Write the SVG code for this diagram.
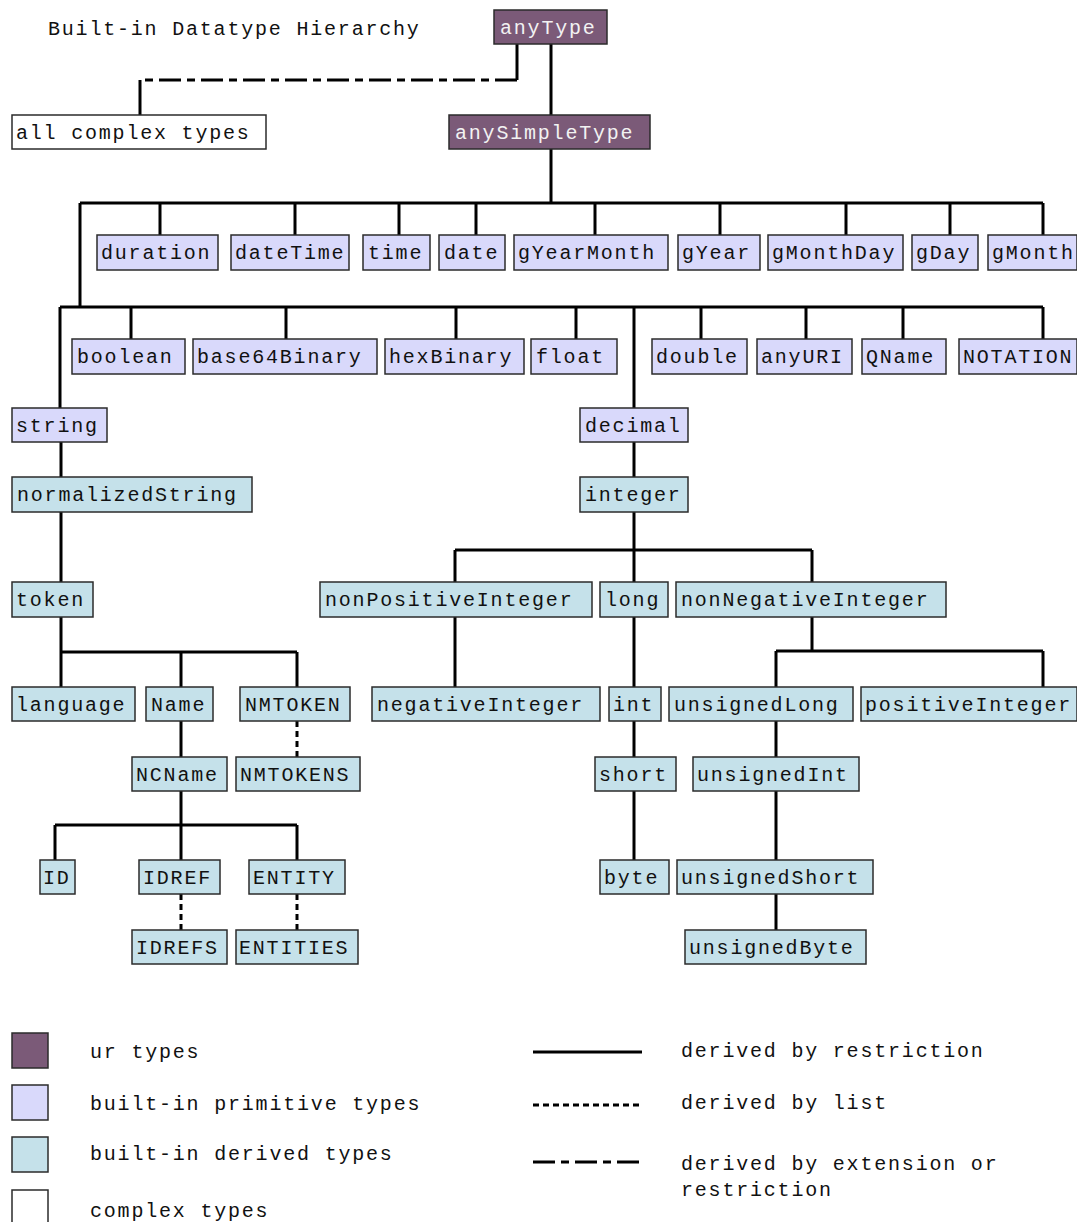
<svg xmlns="http://www.w3.org/2000/svg" width="1077" height="1222" viewBox="0 0 1077 1222">
<style>
rect{stroke:#2b2b2b;stroke-width:1.5}
.ur{fill:#7b5a78}
.pr{fill:#d9d9fb}
.de{fill:#c5e1ea}
.cx{fill:#ffffff}
text{font-family:"Liberation Mono","DejaVu Sans Mono",monospace;font-size:20px;letter-spacing:1.8px;fill:#111}
.lt{fill:#f2f2f2}
.e{stroke:#000;stroke-width:3;fill:none}
.li{stroke-dasharray:6 4}
.ex{stroke-dasharray:22 6 8 6}
</style>
<text x="48" y="35">Built-in Datatype Hierarchy</text>
<g id="connectors">
<path class="e" d="M517 44V80"/>
<path class="e ex" d="M517 80H140"/>
<path class="e" d="M140 80V115"/>
<path class="e" d="M551 44V115M551 149V203M80 203H1043M160 203V235M295 203V235M399 203V235M476 203V235M595 203V235M720 203V235M846 203V235M950 203V235M1043 203V235M80 203V307M60 307H1043M131 307V339M286 307V339M456 307V339M576 307V339M701 307V339M806 307V339M903 307V339M1043 307V339M60 307V408M634 307V408"/>
<path class="e" d="M61 442V477M61 512V582M61 617V652H297M61 652V687M181 652V687M297 652V687M181 721V757M181 791V825M55 825H297M55 825V860M181 825V860M297 825V860"/>
<path class="e li" d="M297 721V757M181 894V930M297 894V930"/>
<path class="e" d="M634 442V477M634 512V550M455 550H812M455 550V582M634 550V582M812 550V582M455 617V687M634 617V687M634 721V757M634 791V860M812 617V651M776 651H1043M776 651V687M1043 651V687M776 721V757M776 791V860M776 894V930"/>
</g>
<g id="n-anyType"><rect class="ur" x="494" y="10" width="113" height="34"/><text class="lt" x="500" y="34">anyType</text></g>
<g id="n-complex"><rect class="cx" x="12" y="115" width="254" height="34"/><text x="16" y="139">all complex types</text></g>
<g id="n-anySimpleType"><rect class="ur" x="449" y="115" width="201" height="34"/><text class="lt" x="455" y="139">anySimpleType</text></g>
<g id="n-duration"><rect class="pr" x="97" y="235" width="121" height="35"/><text x="101" y="259">duration</text></g>
<g id="n-dateTime"><rect class="pr" x="231" y="235" width="118" height="35"/><text x="235" y="259">dateTime</text></g>
<g id="n-time"><rect class="pr" x="363" y="235" width="67" height="35"/><text x="368" y="259">time</text></g>
<g id="n-date"><rect class="pr" x="439" y="235" width="66" height="35"/><text x="444" y="259">date</text></g>
<g id="n-gYearMonth"><rect class="pr" x="514" y="235" width="154" height="35"/><text x="518" y="259">gYearMonth</text></g>
<g id="n-gYear"><rect class="pr" x="678" y="235" width="82" height="35"/><text x="682" y="259">gYear</text></g>
<g id="n-gMonthDay"><rect class="pr" x="768" y="235" width="135" height="35"/><text x="772" y="259">gMonthDay</text></g>
<g id="n-gDay"><rect class="pr" x="912" y="235" width="66" height="35"/><text x="916" y="259">gDay</text></g>
<g id="n-gMonth"><rect class="pr" x="988" y="235" width="89" height="35"/><text x="992" y="259">gMonth</text></g>
<g id="n-boolean"><rect class="pr" x="72" y="339" width="113" height="35"/><text x="77" y="363">boolean</text></g>
<g id="n-base64Binary"><rect class="pr" x="193" y="339" width="184" height="35"/><text x="197" y="363">base64Binary</text></g>
<g id="n-hexBinary"><rect class="pr" x="385" y="339" width="139" height="35"/><text x="389" y="363">hexBinary</text></g>
<g id="n-float"><rect class="pr" x="531" y="339" width="86" height="35"/><text x="536" y="363">float</text></g>
<g id="n-double"><rect class="pr" x="652" y="339" width="95" height="35"/><text x="656" y="363">double</text></g>
<g id="n-anyURI"><rect class="pr" x="757" y="339" width="95" height="35"/><text x="761" y="363">anyURI</text></g>
<g id="n-QName"><rect class="pr" x="862" y="339" width="84" height="35"/><text x="866" y="363">QName</text></g>
<g id="n-NOTATION"><rect class="pr" x="959" y="339" width="118" height="35"/><text x="963" y="363">NOTATION</text></g>
<g id="n-string"><rect class="pr" x="12" y="408" width="95" height="34"/><text x="16" y="432">string</text></g>
<g id="n-decimal"><rect class="pr" x="580" y="408" width="108" height="34"/><text x="585" y="432">decimal</text></g>
<g id="n-normalizedString"><rect class="de" x="12" y="477" width="240" height="35"/><text x="17" y="501">normalizedString</text></g>
<g id="n-integer"><rect class="de" x="580" y="477" width="108" height="35"/><text x="585" y="501">integer</text></g>
<g id="n-token"><rect class="de" x="12" y="582" width="81" height="35"/><text x="16" y="606">token</text></g>
<g id="n-nonPositiveInteger"><rect class="de" x="320" y="582" width="272" height="35"/><text x="325" y="606">nonPositiveInteger</text></g>
<g id="n-long"><rect class="de" x="600" y="582" width="68" height="35"/><text x="605" y="606">long</text></g>
<g id="n-nonNegativeInteger"><rect class="de" x="676" y="582" width="270" height="35"/><text x="681" y="606">nonNegativeInteger</text></g>
<g id="n-language"><rect class="de" x="12" y="687" width="123" height="34"/><text x="16" y="711">language</text></g>
<g id="n-Name"><rect class="de" x="146" y="687" width="67" height="34"/><text x="151" y="711">Name</text></g>
<g id="n-NMTOKEN"><rect class="de" x="240" y="687" width="110" height="34"/><text x="245" y="711">NMTOKEN</text></g>
<g id="n-negativeInteger"><rect class="de" x="372" y="687" width="228" height="34"/><text x="377" y="711">negativeInteger</text></g>
<g id="n-int"><rect class="de" x="609" y="687" width="52" height="34"/><text x="613" y="711">int</text></g>
<g id="n-unsignedLong"><rect class="de" x="669" y="687" width="184" height="34"/><text x="674" y="711">unsignedLong</text></g>
<g id="n-positiveInteger"><rect class="de" x="861" y="687" width="216" height="34"/><text x="865" y="711">positiveInteger</text></g>
<g id="n-NCName"><rect class="de" x="132" y="757" width="95" height="34"/><text x="136" y="781">NCName</text></g>
<g id="n-NMTOKENS"><rect class="de" x="236" y="757" width="124" height="34"/><text x="240" y="781">NMTOKENS</text></g>
<g id="n-short"><rect class="de" x="595" y="757" width="81" height="34"/><text x="599" y="781">short</text></g>
<g id="n-unsignedInt"><rect class="de" x="693" y="757" width="166" height="34"/><text x="697" y="781">unsignedInt</text></g>
<g id="n-ID"><rect class="de" x="40" y="860" width="35" height="34"/><text x="43" y="884">ID</text></g>
<g id="n-IDREF"><rect class="de" x="139" y="860" width="81" height="34"/><text x="143" y="884">IDREF</text></g>
<g id="n-ENTITY"><rect class="de" x="249" y="860" width="96" height="34"/><text x="253" y="884">ENTITY</text></g>
<g id="n-byte"><rect class="de" x="600" y="860" width="69" height="34"/><text x="604" y="884">byte</text></g>
<g id="n-unsignedShort"><rect class="de" x="677" y="860" width="196" height="34"/><text x="681" y="884">unsignedShort</text></g>
<g id="n-IDREFS"><rect class="de" x="132" y="930" width="95" height="34"/><text x="136" y="954">IDREFS</text></g>
<g id="n-ENTITIES"><rect class="de" x="236" y="930" width="122" height="34"/><text x="239" y="954">ENTITIES</text></g>
<g id="n-unsignedByte"><rect class="de" x="685" y="930" width="181" height="34"/><text x="689" y="954">unsignedByte</text></g>
<g id="legend">
<rect class="ur" x="12" y="1033" width="36" height="35"/>
<rect class="pr" x="12" y="1085" width="36" height="35"/>
<rect class="de" x="12" y="1137" width="36" height="35"/>
<rect class="cx" x="12" y="1190" width="36" height="40"/>
<text x="90" y="1058">ur types</text>
<text x="90" y="1110">built-in primitive types</text>
<text x="90" y="1160">built-in derived types</text>
<text x="90" y="1217">complex types</text>
<path class="e" d="M533 1052H642"/>
<path class="e li" d="M533 1105H642"/>
<path class="e ex" d="M533 1162H642"/>
<text x="681" y="1057">derived by restriction</text>
<text x="681" y="1109">derived by list</text>
<text x="681" y="1170">derived by extension or</text>
<text x="681" y="1196">restriction</text>
</g>
</svg>
